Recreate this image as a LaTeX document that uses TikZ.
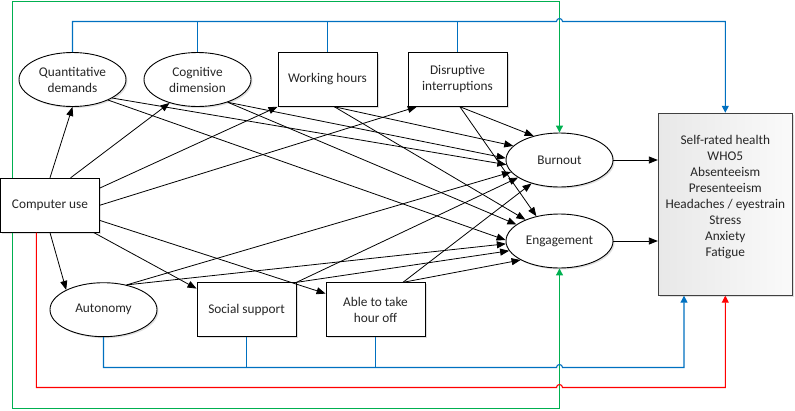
\documentclass[tikz,border=0pt]{standalone}
\usepackage{fontspec}
\setmainfont{Carlito}
\usetikzlibrary{arrows.meta,shapes.geometric,shadows,calc}
\definecolor{cblue}{RGB}{0,112,192}
\definecolor{cgreen}{RGB}{0,176,80}
\definecolor{cred}{RGB}{255,0,0}
\begin{document}
\begin{tikzpicture}[x=1pt,y=-1pt,
  every node/.style={font=\fontsize{13.3}{16}\selectfont, text=black!85, align=center},
  shad/.style={drop shadow={shadow xshift=1.5pt,shadow yshift=-1.5pt,fill=black!20,opacity=0.6}},
  ell/.style={ellipse, draw, line width=0.9pt, fill=white, minimum width=107pt, minimum height=54pt, inner sep=0pt, shad},
  box/.style={rectangle, draw, line width=0.9pt, fill=white, minimum width=99pt, minimum height=54pt, inner sep=0pt, shad},
  outbox/.style={rectangle, draw=black!75, line width=0.9pt, left color=black!9, right color=black!2, minimum width=134pt, minimum height=182pt, inner sep=0pt, shad},
  arr/.style={line width=0.8pt, -{Triangle[length=9pt,width=7pt]}},
  blueline/.style={line width=1.1pt, color=cblue},
  carr/.style={line width=1.1pt, -{Triangle[length=7pt,width=7pt]}},
]
\useasboundingbox (0,0) rectangle (795,410);

% nodes
\node[ell] (qd) at (72.5,79.5) {Quantitative\\demands};
\node[ell] (cd) at (197.5,79.5) {Cognitive\\dimension};
\node[box] (wh) at (327.5,79.3) {Working hours};
\node[box] (di) at (457.5,79.3) {Disruptive\\interruptions};
\node[box] (cu) at (50,205.2) {Computer use};
\node[ell] (aut) at (103.5,309.7) {Autonomy};
\node[box] (ss) at (246.5,309.8) {Social support};
\node[box] (able) at (375.5,309.8) {Able to take\\hour off};
\node[ell] (bo) at (559.5,160) {Burnout};
\node[ell] (en) at (559.5,241) {Engagement};
\node[outbox] (out) at (725.3,204.2) {Self-rated health\\WHO5\\Absenteeism\\Presenteeism\\Headaches / eyestrain\\Stress\\Anxiety\\Fatigue\\~};

% level coordinates
\coordinate (ytop) at (0,21.5);
\coordinate (ybot) at (0,367.5);
\coordinate (yred) at (0,387.5);
\coordinate (ygbot) at (0,408.5);
\coordinate (ygtop) at (0,1.5);
\coordinate (gtop) at ($(cu.north west)!0.121!(cu.north east)$);
\coordinate (gbot) at ($(cu.south west)!0.121!(cu.south east)$);
\coordinate (rbot) at ($(cu.south west)!0.364!(cu.south east)$);
\coordinate (bluein) at ($(out.south west)!0.194!(out.south east)$);

% computer use -> mediators
\draw[arr] (cu.north) -- (qd.south);
\draw[arr] (cu.53) -- (cd.-140);
\draw[arr] (cu.19) -- (wh.south west);
\draw[arr] (cu.east) -- (di.-146);
\draw[arr] (cu.-17) -- (able.162);
\draw[arr] (cu.-32) -- (ss.157);
\draw[arr] (cu.south) -- (aut.152);

% mediators -> burnout
\draw[arr] (di.-85) -- (bo.137);
\draw[arr] (wh.-76) -- (bo.163);
\draw[arr] (cd.-37) -- (bo.178);
\draw[arr] (qd.-25) -- (bo.-175);
\draw[arr] (aut.47) -- (bo.-166);
\draw[arr] (ss.north east) -- (bo.-157);
\draw[arr] (able.45) -- (bo.-140);

% mediators -> engagement
\draw[arr] (di.-85) -- (en.133);
\draw[arr] (wh.-76) -- (en.148);
\draw[arr] (cd.-37) -- (en.159);
\draw[arr] (qd.-30) -- (en.179);
\draw[arr] (aut.47) -- (en.-177);
\draw[arr] (ss.north east) -- (en.-169);
\draw[arr] (able.45) -- (en.-154);

% burnout / engagement -> outcomes
\draw[arr] (bo.east) -- (bo.east -| out.west);
\draw[arr] (en.east) -- (en.east -| out.west);

% green direct paths
\draw[carr, color=cgreen] (gtop) -- (gtop |- ygtop) -| (bo.north);
\draw[carr, color=cgreen] (gbot) -- (gbot |- ygbot) -| (en.south);

% blue top
\draw[blueline] (cd.north) -- (cd.north |- ytop);
\draw[blueline] (wh.north) -- (wh.north |- ytop);
\draw[blueline] (di.north) -- (di.north |- ytop);
\draw[carr, color=cblue] (qd.north) |- ($(bo.north |- ytop)+(-3,0)$) arc[start angle=180, end angle=0, radius=3pt] -| (out.north);

% blue bottom
\draw[blueline] (ss.south) -- (ss.south |- ybot);
\draw[blueline] (able.south) -- (able.south |- ybot);
\draw[carr, color=cblue] (aut.south) |- ($(en.south |- ybot)+(-3,0)$) arc[start angle=180, end angle=0, radius=3pt] -| (bluein);

% red direct
\draw[carr, color=cred] (rbot) |- ($(en.south |- yred)+(-3,0)$) arc[start angle=180, end angle=0, radius=3pt] -| (out.south);
\end{tikzpicture}
\end{document}
